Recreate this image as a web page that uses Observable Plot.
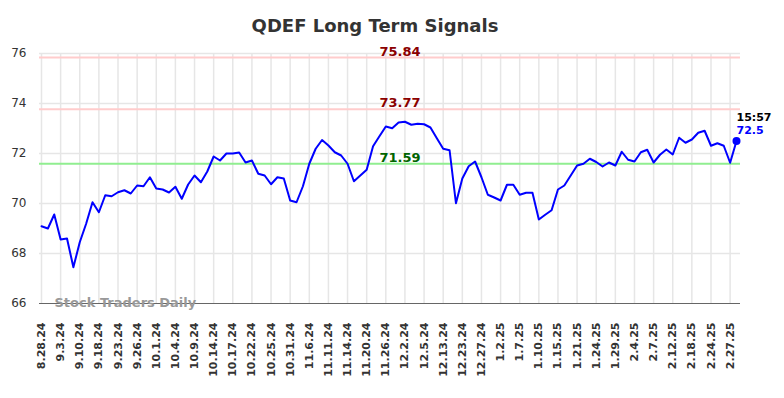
<!DOCTYPE html>
<html><head><meta charset="utf-8">
<script src="https://cdn.jsdelivr.net/npm/d3@7"></script>
<script src="https://cdn.jsdelivr.net/npm/@observablehq/plot@0.6"></script>
<style>
body{margin:0;background:#fff;font-family:"DejaVu Sans",sans-serif;}
#wrap{position:relative;width:784px;height:398px;overflow:hidden;}
#title{position:absolute;left:0;top:15px;width:750px;text-align:center;font-weight:bold;font-size:18px;line-height:22px;color:#333;}
#chart{position:absolute;left:0;top:40px;}
</style></head><body>
<div id="wrap"><div id="title">QDEF Long Term Signals</div><div id="chart"></div></div>
<script>
const dates = ["8.28.24","8.29.24","8.30.24","9.3.24","9.4.24","9.6.24","9.10.24","9.12.24","9.16.24","9.18.24",
"9.19.24","9.20.24","9.23.24","9.24.24","9.25.24","9.26.24","9.27.24","9.30.24","10.1.24","10.2.24",
"10.3.24","10.4.24","10.7.24","10.8.24","10.9.24","10.10.24","10.11.24","10.14.24","10.15.24","10.16.24",
"10.17.24","10.18.24","10.21.24","10.22.24","10.23.24","10.24.24","10.25.24","10.28.24","10.29.24","10.31.24",
"11.1.24","11.4.24","11.6.24","11.7.24","11.8.24","11.11.24","11.12.24","11.13.24","11.14.24","11.15.24",
"11.18.24","11.20.24","11.21.24","11.22.24","11.26.24","11.27.24","11.29.24","12.2.24","12.3.24","12.4.24",
"12.5.24","12.9.24","12.11.24","12.13.24","12.17.24","12.19.24","12.23.24","12.24.24","12.26.24","12.27.24",
"12.30.24","12.31.24","1.2.25","1.3.25","1.6.25","1.7.25","1.8.25","1.9.25","1.10.25","1.13.25",
"1.14.25","1.15.25","1.16.25","1.17.25","1.21.25","1.22.25","1.23.25","1.24.25","1.27.25","1.28.25",
"1.29.25","1.30.25","2.3.25","2.4.25","2.5.25","2.6.25","2.7.25","2.10.25","2.11.25","2.12.25",
"2.13.25","2.14.25","2.18.25","2.19.25","2.21.25","2.24.25","2.25.25","2.26.25","2.27.25","2.28.25"];
const values = [69.09,69.00,69.56,68.56,68.60,67.45,68.45,69.19,70.05,69.65,
70.33,70.29,70.45,70.53,70.40,70.72,70.69,71.05,70.60,70.56,
70.44,70.67,70.19,70.76,71.12,70.85,71.28,71.88,71.72,72.00,
72.00,72.04,71.64,71.72,71.19,71.12,70.77,71.05,71.00,70.12,
70.05,70.69,71.59,72.19,72.54,72.32,72.05,71.92,71.59,70.89,
71.12,71.35,72.29,72.69,73.08,73.01,73.24,73.27,73.15,73.19,
73.17,73.04,72.61,72.19,72.13,70.01,71.00,71.49,71.68,71.05,
70.35,70.24,70.12,70.75,70.75,70.35,70.43,70.43,69.36,69.55,
69.73,70.56,70.72,71.12,71.52,71.59,71.79,71.66,71.48,71.64,
71.52,72.07,71.75,71.68,72.05,72.15,71.64,71.95,72.16,71.96,
72.63,72.43,72.56,72.83,72.91,72.31,72.41,72.31,71.63,72.50];
const tickLabels = ["8.28.24","9.3.24","9.10.24","9.18.24","9.23.24","9.26.24","10.1.24","10.4.24","10.9.24",
"10.14.24","10.17.24","10.22.24","10.25.24","10.31.24","11.6.24","11.11.24","11.14.24","11.20.24","11.26.24",
"12.2.24","12.5.24","12.13.24","12.23.24","12.27.24","1.2.25","1.7.25","1.10.25","1.15.25","1.21.25",
"1.24.25","1.29.25","2.4.25","2.7.25","2.12.25","2.18.25","2.24.25","2.27.25"];
const yTicks = [66,68,70,72,74,76];
const resistance = [75.84, 73.77];
const support = [71.59];
const lastTime = "15:57";
const watermark = "Stock Traders Daily";

const data = dates.map((d,i)=>({date:d, value:values[i]}));
const last = data[data.length-1];

const chart = Plot.plot({
  width: 784, height: 358,
  marginTop: 13, marginBottom: 95, marginLeft: 41, marginRight: 48,
  style: {fontFamily: "DejaVu Sans, sans-serif", background: "#fff", overflow: "visible"},
  x: {type: "point", domain: dates, padding: 0},
  y: {domain: [66, 76]},
  marks: [
    Plot.ruleX(tickLabels, {stroke: "#e6e6e6", strokeWidth: 1.5}),
    Plot.ruleY(yTicks.filter(t=>t>66), {stroke: "#e6e6e6", strokeWidth: 1.5, insetLeft: -2, insetRight: -4}),
    Plot.ruleY(resistance, {stroke: "#ffcccc", strokeWidth: 2, insetLeft: -2, insetRight: -4}),
    Plot.ruleY(support, {stroke: "#90ee90", strokeWidth: 2, insetLeft: -2, insetRight: -4}),
    Plot.ruleY([66], {stroke: "#666", strokeWidth: 1.2, insetLeft: -2, insetRight: -4}),
    Plot.text([watermark], {frameAnchor: "bottom-left", text: d=>d, dx: 13, dy: -1, lineAnchor: "middle", textAnchor: "start", fill: "#999", fontWeight: "bold", fontSize: 13}),
    Plot.line(data, {x: "date", y: "value", stroke: "#0000ff", strokeWidth: 2}),
    Plot.text(resistance, {y: d=>d, text: d=>d.toFixed(2), frameAnchor: "middle", dx: 11, dy: -2, lineAnchor: "bottom", fill: "#8b0000", fontWeight: "bold", fontSize: 13}),
    Plot.text(support, {y: d=>d, text: d=>d.toFixed(2), frameAnchor: "middle", dx: 11, dy: -2, lineAnchor: "bottom", fill: "#006400", fontWeight: "bold", fontSize: 13}),
    Plot.dot([last], {x: "date", y: "value", r: 4, fill: "#0000ff"}),
    Plot.text([last], {x: "date", y: "value", text: ()=>lastTime, textAnchor: "start", dx: 0, dy: -24, fill: "#000", fontWeight: "bold", fontSize: 11}),
    Plot.text([last], {x: "date", y: "value", text: d=>String(d.value), textAnchor: "start", dx: 0, dy: -11, fill: "#0000ff", fontWeight: "bold", fontSize: 11}),
    Plot.axisY({ticks: yTicks, tickSize: 0, tickPadding: 15, fontSize: 12, color: "#333", label: null}),
    Plot.axisX({ticks: tickLabels, tickSize: 0, tickPadding: 19, tickRotate: -90, fontSize: 11, fontWeight: "bold", color: "#333", label: null})
  ]
});
document.getElementById("chart").appendChild(chart);
</script>
</body></html>
